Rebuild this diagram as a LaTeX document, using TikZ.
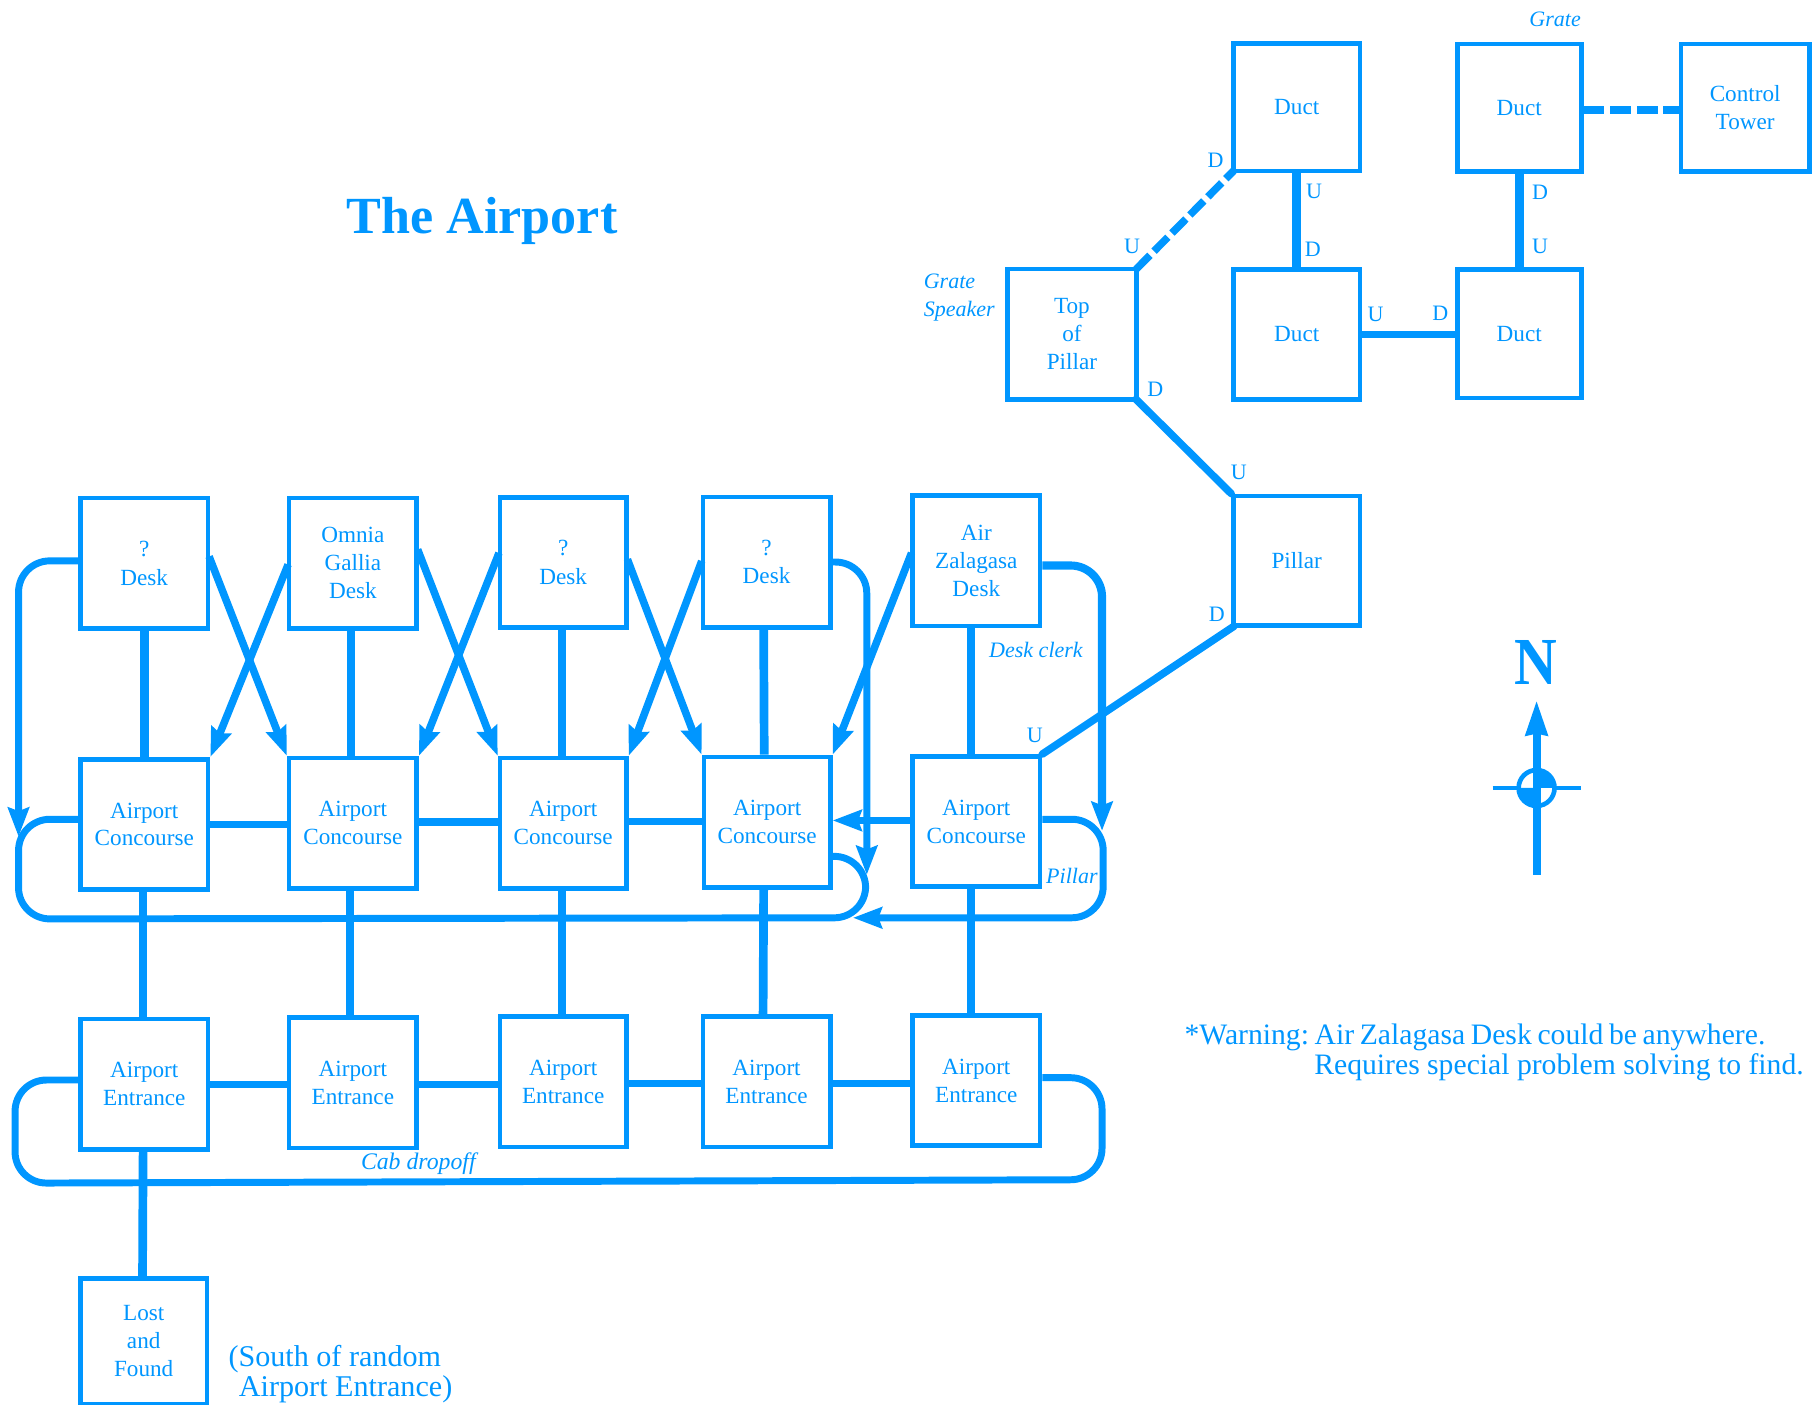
\documentclass[tikz,border=0pt]{standalone}
\usepackage{fontspec}
\setmainfont{Liberation Serif}
\usetikzlibrary{arrows.meta}
\definecolor{ink}{RGB}{0,150,255}
\tikzset{
  room/.style={draw=ink,line width=4pt,outer sep=2pt,inner sep=0pt,minimum width=110pt,minimum height=112.5pt,
    text=ink,align=center,font=\fontsize{20}{24}\selectfont},
  link/.style={draw=ink,line width=7.5pt},
  road/.style={draw=ink,line width=6.5pt,line join=round},
  hall/.style={draw=ink,line width=6pt,line join=round,rounded corners=27pt},
  diag/.style={draw=ink,line width=6.5pt,shorten <=-3pt},
  dashy/.style={draw=ink,line width=7pt,dash pattern=on 18pt off 5pt},
  arrowed/.style={-{Stealth[length=25pt,width=18pt,inset=3pt]}},
  lab/.style={text=ink,inner sep=0pt,font=\fontsize{19}{22}\selectfont},
  itlab/.style={text=ink,inner sep=0pt,align=left,font=\fontsize{19}{24}\selectfont\itshape},
  bigtext/.style={text=ink,inner sep=0pt,anchor=west,font=\frenchspacing\fontsize{25.6}{26}\selectfont},
}
\begin{document}
\begin{tikzpicture}[x=1pt,y=-1pt]
\useasboundingbox (0,0) rectangle (1568,1211.6);
% rooms
\node[room] (D1) at (124.5,486) {?\\[1pt]Desk};
\node[room] (D2) at (304.5,486) {Omnia\\Gallia\\Desk};
\node[room,minimum width=109pt] (D3) at (486,485.5) {?\\[1pt]Desk};
\node[room] (D4) at (661.5,485) {?\\Desk};
\node[room] (D5) at (842.5,484) {Air\\Zalagasa\\Desk};
\node[room] (C1) at (124.5,711.5) {Airport\\Concourse};
\node[room] (C2) at (304.5,710.5) {Airport\\Concourse};
\node[room,minimum width=109pt] (C3) at (486,710.5) {Airport\\Concourse};
\node[room,minimum width=109pt] (C4) at (662,709.5) {Airport\\Concourse};
\node[room] (C5) at (842.5,709) {Airport\\Concourse};
\node[room] (E1) at (124.5,935.5) {Airport\\Entrance};
\node[room] (E2) at (304.5,934.5) {Airport\\Entrance};
\node[room,minimum width=109pt] (E3) at (486,933.5) {Airport\\Entrance};
\node[room] (E4) at (661.5,933.5) {Airport\\Entrance};
\node[room] (E5) at (842.5,932.5) {Airport\\Entrance};
\node[room,minimum width=109pt,minimum height=108pt] (L) at (124,1157.5) {Lost\\and\\Found};
\node[room,minimum width=111pt] (T) at (925,288.5) {Top\\of\\Pillar};
\node[room,minimum width=109pt,minimum height=110pt] (A) at (1119,92.5) {Duct};
\node[room,minimum width=109pt,minimum height=112pt] (B) at (1119,288.5) {Duct};
\node[room,minimum width=107pt,minimum height=111pt] (C) at (1311,288) {Duct};
\node[room,minimum width=107pt,minimum height=110pt] (Dd) at (1311,93) {Duct};
\node[room,minimum width=111pt,minimum height=110pt] (CT) at (1506,93) {Control\\Tower};
\node[room,minimum width=109pt,minimum height=112pt] (P) at (1119,484) {Pillar};
% vertical connectors
\draw[link] (D1.south) -- (C1.north);
\draw[link] ([xshift=-1.5pt]D2.south) -- ([xshift=-1.5pt]C2.north);
\draw[link] ([xshift=-1pt]D3.south) -- ([xshift=-1pt]C3.north);
\draw[link] ([xshift=-2.5pt]D4.south) -- ([xshift=-2.5pt]C4.north);
\draw[link] ([xshift=-4.5pt]D5.south) -- ([xshift=-4.5pt]C5.north);
\draw[link] ([xshift=-1pt]C1.south) -- ([xshift=-1pt]E1.north);
\draw[link] ([xshift=-2.5pt]C2.south) -- ([xshift=-2.5pt]E2.north);
\draw[link] ([xshift=-1pt]C3.south) -- ([xshift=-1pt]E3.north);
\draw[link] ([xshift=-3pt]C4.south) -- ([xshift=-3pt]E4.north);
\draw[link] ([xshift=-4.5pt]C5.south) -- ([xshift=-4.5pt]E5.north);
\draw[link] ([xshift=-1pt]E1.south) -- ([xshift=-1pt]L.north);
% horizontal connectors
\draw[road] (C1.east) -- (C1.east -| C2.west);
\draw[road] ([yshift=1pt]C2.east) -- ([yshift=1pt]C2.east -| C3.west);
\draw[road] ([yshift=1.5pt]C3.east) -- ([yshift=1.5pt]C3.east -| C4.west);
\draw[road,arrowed] ([yshift=1pt]C5.west) -- ([yshift=1pt]C5.west -| C4.east);
\draw[road] ([yshift=-.5pt]E1.east) -- ([yshift=-.5pt]E1.east -| E2.west);
\draw[road] ([yshift=-1.5pt]E2.east) -- ([yshift=-1.5pt]E2.east -| E3.west);
\draw[road] ([yshift=-1.5pt]E3.east) -- ([yshift=-1.5pt]E3.east -| E4.west);
\draw[road] ([yshift=-1.5pt]E4.east) -- ([yshift=-1.5pt]E4.east -| E5.west);
% diagonals
\draw[diag,arrowed] ([yshift=3pt]D1.east) -- (C2.north west);
\draw[diag,arrowed] ([yshift=-4pt]D2.west) -- (C1.north east);
\draw[diag,arrowed] ([yshift=9pt]D2.east) -- (C3.north west);
\draw[diag,arrowed] ([yshift=5.5pt]D3.west) -- (C2.north east);
\draw[diag,arrowed] (D3.east) -- (C4.north west);
\draw[diag,arrowed] ([yshift=-2pt]D4.west) -- (C3.north east);
\draw[diag,arrowed] ([yshift=4pt]D5.west) -- (C4.north east);
% loops
\coordinate (dl1) at (16,722);
\draw[hall,arrowed] ([yshift=2pt]D1.west) -| (dl1);
\coordinate (dr4) at (748,755);
\draw[hall,arrowed] (D4.east) -| (dr4);
\coordinate (dr5) at (951,717);
\draw[hall,arrowed,line width=7pt] ([yshift=-4pt]D5.east) -| (dr5);
\coordinate (cl1) at (16,707);
\coordinate (cl2) at (16,793);
\coordinate (cl3) at (747,792);
\coordinate (cl4) at (747,739);
\draw[hall] ([yshift=4.5pt]C1.west) -- (cl1) -- (cl2) -- (cl3) -- (cl4) -- (C4.east |- cl4);
\coordinate (cr1) at (952,707);
\coordinate (cr2) at (952,792);
\coordinate (cr3) at (736,792);
\draw[hall,arrowed] ([yshift=2pt]C5.east) -- (cr1) -- (cr2) -- (cr3);
\coordinate (el1) at (13,932);
\coordinate (el2) at (13,1021);
\coordinate (el3) at (951,1018);
\coordinate (el4) at (951,930);
\draw[hall] ([yshift=3.5pt]E1.west) -- (el1) -- (el2) -- (el3) -- (el4) -- ([yshift=2.5pt]E5.east);
% upper network
\draw[link] (A.south) -- (B.north);
\draw[link] (Dd.south) -- (C.north);
\draw[road] (B.east) -- (B.east -| C.west);
\draw[dashy] ([yshift=-2pt]Dd.east) -- ([yshift=-2pt]CT.west);
\draw[diag,shorten >=-3pt,dash pattern=on 17pt off 5pt] (T.north east) -- (A.south west);
\draw[diag,line cap=round] (T.south east) -- (P.north west);
\draw[diag,line cap=round] (P.south west) -- (C5.north east);
% U / D labels
\node[lab] (l1) at (1049,138) {D};
\node[lab] (l2) at (977,213) {U};
\node[lab] (l3) at (1134,165) {U};
\node[lab] (l4) at (1133,215) {D};
\node[lab] (l5) at (1329,166) {D};
\node[lab] (l6) at (1329,213) {U};
\node[lab] (l7) at (1187,271) {U};
\node[lab] (l8) at (1243,270) {D};
\node[lab] (l9) at (997,336) {D};
\node[lab] (l10) at (1069,408) {U};
\node[lab] (l11) at (1050,530) {D};
\node[lab] (l12) at (893,635) {U};
% italic labels
\node[itlab] (g1) at (1342,17) {Grate};
\node[itlab,anchor=west] (g2) at (797,257) {Grate\\Speaker};
\node[itlab] (g3) at (894,561) {Desk clerk};
\node[itlab] (g4) at (925,756) {Pillar};
\node[itlab,font=\fontsize{20.5}{24}\selectfont\itshape] (g5) at (361,1004) {Cab dropoff};
% free text
\node[text=ink,inner sep=0pt,font=\fontsize{45}{50}\selectfont\bfseries] (title) at (416,191) {The Airport};
\node[bigtext] (w1) at (1022,895) {\spaceskip=0.19em *Warning: Air Zalagasa Desk could be anywhere.};
\node[bigtext] (w2) at (1134,921) {Requires special problem solving to find.};
\node[bigtext,font=\fontsize{26}{26}\selectfont] (s1) at (197,1173) {(South of random};
\node[bigtext,font=\fontsize{26}{26}\selectfont] (s2) at (206,1199) {Airport Entrance)};
% compass
\node[text=ink,inner sep=0pt,font=\fontsize{58}{60}\selectfont\bfseries] (north) at (1325.5,572) {\scalebox{0.88}[1]{N}};
\coordinate (cw) at (1288,680);
\coordinate (ce) at (1364,680);
\coordinate (cs) at (1326,755);
\coordinate (cn) at (1326,604);
\node[circle,draw=ink,line width=4pt,minimum size=31pt,inner sep=0pt,outer sep=0pt] (hub) at (1326,680) {};
\fill[ink] (hub.center) -- (hub.east) arc (0:90:15.5pt) -- cycle;
\fill[ink] (hub.center) -- (hub.west) arc (180:270:15.5pt) -- cycle;
\draw[draw=ink,line width=3.5pt] (cw) -- (hub.west) (hub.east) -- (ce);
\draw[draw=ink,line width=7pt,-{Stealth[length=30pt,width=18pt,inset=1pt]}] (cs) -- (cn);
\end{tikzpicture}
\end{document}
